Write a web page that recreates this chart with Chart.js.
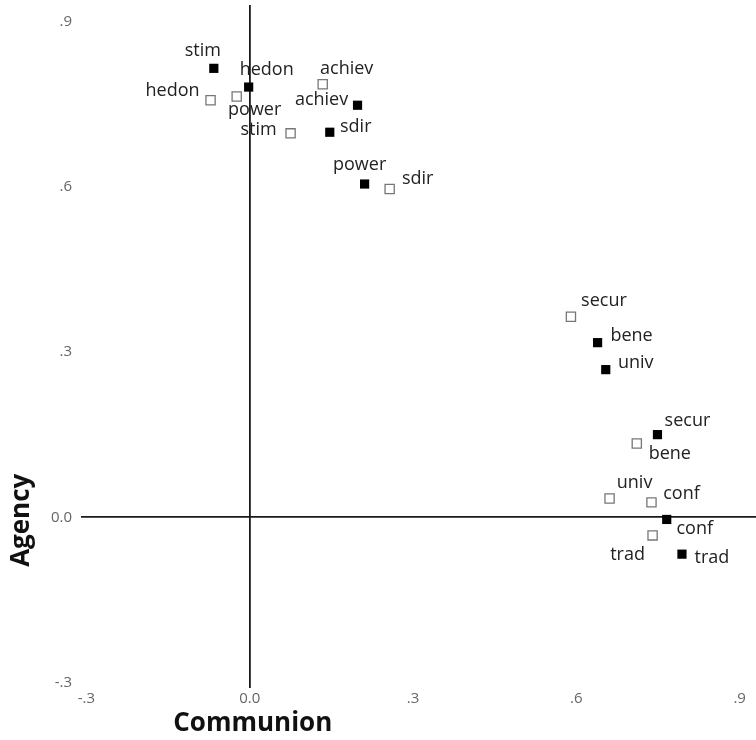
<!DOCTYPE html>
<html lang="en">
<head>
    <meta charset="UTF-8">
    <title>Agency vs Communion</title>
    <script src="https://cdn.jsdelivr.net/npm/chart.js"></script>
    <style>
        html, body {
            margin: 0;
            padding: 0;
            overflow: hidden;
            background-color: white;
        }
        #wrap {
            width: 756px;
            height: 740px;
        }
        canvas {
            display: block;
        }
    </style>
</head>
<body>
    <div id="wrap">
        <canvas id="scatterChart" width="756" height="740"></canvas>
    </div>

    <script>
        // value labels (same order in both series)
        const valueNames = ['stim', 'hedon', 'achiev', 'sdir', 'power', 'bene', 'univ', 'secur', 'conf', 'trad'];

        // filled squares
        const filledX = [-0.066, -0.002, 0.198, 0.147, 0.211, 0.639, 0.654, 0.749, 0.766, 0.794];
        const filledY = [0.815, 0.781, 0.748, 0.699, 0.605, 0.317, 0.268, 0.150, -0.004, -0.067];

        // open squares
        const openX = [0.075, -0.072, 0.134, 0.257, -0.024, 0.711, 0.661, 0.590, 0.738, 0.740];
        const openY = [0.697, 0.757, 0.786, 0.596, 0.764, 0.134, 0.034, 0.364, 0.027, -0.033];

        // axis ticks
        const tickValues = [-0.3, 0, 0.3, 0.6, 0.9];
        const tickLabels = ['-.3', '0.0', '.3', '.6', '.9'];
        const axisMin = -0.31;
        const axisMax = 0.93;

        // label placement (pixels relative to each marker)
        const filledLabelOffsets = [[-11, -17], [18, -17], [-36, -5], [26, -5], [-5, -19], [34, -7], [30, -7], [30, -14], [28, 9], [30, 4]];
        const openLabelOffsets = [[-32, -3], [-38, -9], [24, -15], [28, -10], [18, 13], [33, 10], [25, -16], [33, -16], [30, -9], [-25, 19]];

        const FONT = "'Open Sans', 'DejaVu Sans', sans-serif";

        const toPoints = (xs, ys) => xs.map((x, i) => ({ x: x, y: ys[i] }));

        // draws the value name next to every marker
        const pointLabels = {
            id: 'pointLabels',
            afterDatasetsDraw(chart) {
                const ctx = chart.ctx;
                ctx.save();
                ctx.font = '18px ' + FONT;
                ctx.fillStyle = '#222';
                ctx.textAlign = 'center';
                ctx.textBaseline = 'middle';
                chart.data.datasets.forEach((ds, di) => {
                    const meta = chart.getDatasetMeta(di);
                    meta.data.forEach((pt, i) => {
                        const off = ds.labelOffsets[i];
                        ctx.fillText(valueNames[i], pt.x + off[0], pt.y + off[1]);
                    });
                });
                ctx.restore();
            }
        };

        // axis titles sit at the zero position, like the original
        const axisTitles = {
            id: 'axisTitles',
            afterDraw(chart) {
                const ctx = chart.ctx;
                const xs = chart.scales.x;
                const ys = chart.scales.y;
                ctx.save();
                ctx.font = 'bold 26px ' + FONT;
                ctx.fillStyle = '#111';
                ctx.textAlign = 'center';
                ctx.textBaseline = 'middle';
                ctx.fillText('Communion', xs.getPixelForValue(0) + 3, 724);
                ctx.translate(22, ys.getPixelForValue(0) + 3);
                ctx.rotate(-Math.PI / 2);
                ctx.fillText('Agency', 0, 0);
                ctx.restore();
            }
        };

        const zeroLine = (c) => (c.tick && c.tick.value === 0 ? '#1a1a1a' : 'rgba(0,0,0,0)');
        const tickText = (value) => tickLabels[tickValues.indexOf(value)];

        new Chart(document.getElementById('scatterChart'), {
            type: 'scatter',
            data: {
                datasets: [
                    {
                        label: 'filled',
                        data: toPoints(filledX, filledY),
                        pointStyle: 'rect',
                        pointRadius: 6.5,
                        backgroundColor: '#000',
                        borderColor: '#000',
                        borderWidth: 0,
                        labelOffsets: filledLabelOffsets
                    },
                    {
                        label: 'open',
                        data: toPoints(openX, openY),
                        pointStyle: 'rect',
                        pointRadius: 6.5,
                        backgroundColor: '#fff',
                        borderColor: '#777',
                        borderWidth: 1.3,
                        labelOffsets: openLabelOffsets
                    }
                ]
            },
            options: {
                responsive: false,
                animation: false,
                layout: {
                    autoPadding: false,
                    padding: { top: 5, right: 0, left: 0, bottom: 0 }
                },
                scales: {
                    x: {
                        type: 'linear',
                        min: axisMin,
                        max: axisMax,
                        afterFit: (s) => {
                            s.height = 52;
                            s.paddingLeft = 0;
                            s.paddingRight = 0;
                        },
                        afterBuildTicks: (s) => { s.ticks = tickValues.map(v => ({ value: v })); },
                        border: { display: false },
                        grid: { color: zeroLine, lineWidth: 1.8, drawTicks: false },
                        ticks: {
                            padding: 2,
                            maxRotation: 0,
                            autoSkip: false,
                            color: '#666',
                            font: { family: FONT, size: 15 },
                            callback: tickText
                        }
                    },
                    y: {
                        type: 'linear',
                        min: axisMin,
                        max: axisMax,
                        afterFit: (s) => {
                            s.width = 81;
                            s.paddingTop = 0;
                            s.paddingBottom = 0;
                        },
                        afterBuildTicks: (s) => { s.ticks = tickValues.map(v => ({ value: v })); },
                        border: { display: false },
                        grid: { color: zeroLine, lineWidth: 1.8, drawTicks: false },
                        ticks: {
                            padding: 9,
                            autoSkip: false,
                            color: '#666',
                            font: { family: FONT, size: 15 },
                            callback: tickText
                        }
                    }
                },
                plugins: {
                    legend: { display: false },
                    tooltip: { enabled: false }
                }
            },
            plugins: [pointLabels, axisTitles]
        });
    </script>
</body>
</html>
